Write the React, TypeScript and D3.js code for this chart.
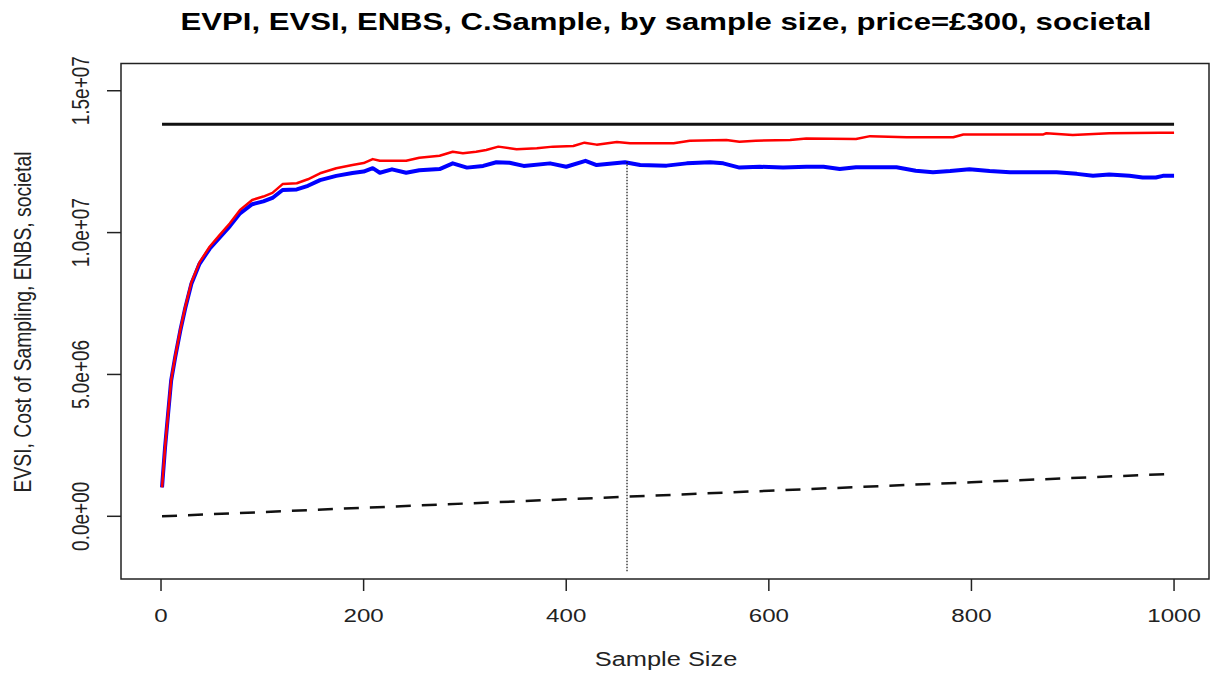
import React from "react";
import * as d3 from "d3";

// sample sizes and values (EVSI / ENBS in £ millions)
const evsiN = [1, 4, 7, 10, 14, 19, 24, 30, 38, 48, 58, 68, 78, 90, 101, 110, 120, 134, 145, 157, 173, 189, 200, 209, 216, 242, 255, 275, 288, 298, 311, 321, 333, 351, 371, 387, 407, 418, 430, 450, 463, 506, 522, 558, 571, 587, 621, 637, 686, 700, 736, 782, 792, 871, 874, 900, 936, 986, 1000];
const evsiV = [1.02, 2.45, 3.63, 4.8, 5.63, 6.57, 7.39, 8.25, 8.95, 9.5, 9.92, 10.33, 10.8, 11.15, 11.27, 11.4, 11.71, 11.74, 11.88, 12.09, 12.27, 12.38, 12.45, 12.59, 12.53, 12.53, 12.64, 12.71, 12.85, 12.8, 12.85, 12.91, 13.03, 12.94, 12.97, 13.03, 13.05, 13.17, 13.1, 13.19, 13.15, 13.15, 13.24, 13.26, 13.2, 13.24, 13.26, 13.32, 13.3, 13.4, 13.36, 13.36, 13.46, 13.46, 13.5, 13.44, 13.5, 13.52, 13.52];

const enbsN = [1, 4, 7, 10, 14, 19, 24, 30, 38, 48, 58, 68, 78, 90, 101, 110, 120, 134, 145, 157, 173, 189, 200, 209, 216, 228, 242, 255, 275, 288, 302, 318, 331, 344, 358, 384, 400, 419, 430, 458, 473, 499, 519, 542, 555, 571, 591, 614, 637, 654, 670, 686, 726, 745, 762, 779, 798, 818, 838, 884, 904, 920, 936, 956, 969, 982, 989, 1000];
const enbsV = [1.02, 2.44, 3.62, 4.78, 5.61, 6.54, 7.35, 8.2, 8.9, 9.43, 9.83, 10.23, 10.68, 11.0, 11.1, 11.22, 11.5, 11.52, 11.65, 11.85, 12.0, 12.1, 12.15, 12.27, 12.11, 12.23, 12.11, 12.2, 12.24, 12.44, 12.29, 12.35, 12.48, 12.46, 12.35, 12.44, 12.32, 12.53, 12.38, 12.48, 12.38, 12.36, 12.44, 12.48, 12.44, 12.29, 12.32, 12.29, 12.32, 12.32, 12.24, 12.3, 12.3, 12.18, 12.13, 12.17, 12.23, 12.17, 12.13, 12.13, 12.07, 12.0, 12.05, 12.0, 11.94, 11.94, 12.0, 12.0];

const costN = [1, 200, 400, 600, 800, 1000];
const costV = [0.0, 0.3, 0.6, 0.9, 1.2, 1.5];

const evpiN = [1, 1000];
const evpiV = [13.82, 13.82];

const optimalN = 460;
const optimalTop = 12.5;
const optimalBottom = -1.95;

const xTicks = [0, 200, 400, 600, 800, 1000];
const yTicks = [0, 5, 10, 15];
const yTickLabels = ["0.0e+00", "5.0e+06", "1.0e+07", "1.5e+07"];

const title = "EVPI, EVSI, ENBS, C.Sample, by sample size, price=£300, societal";
const xTitle = "Sample Size";
const yTitle = "EVSI, Cost of Sampling, ENBS, societal";

const W = 1211, H = 673;
const left = 121, right = 1209, top = 63.5, bottom = 579;
const sx = 1.27; // the original is stretched sideways
const font = "'Liberation Sans', Arial, sans-serif";

export default function App() {
  const x = d3.scaleLinear().domain([-39.5, 1034.5]).range([left, right]);
  const y = d3.scaleLinear().domain([-2.21, 15.96]).range([bottom, top]);

  const line = d3
    .line<[number, number]>()
    .x((d) => x(d[0]))
    .y((d) => y(d[1]));

  const zip = (ns: number[], vs: number[]) => ns.map((n, i) => [n, vs[i]] as [number, number]);

  return (
    <svg width={W} height={H} style={{ position: "absolute", left: 0, top: 0, background: "#fff" }} fontFamily={font}>
      <g transform={`translate(666,30) scale(${sx},1)`}>
        <text textAnchor="middle" fontSize={24.5} fontWeight="bold" fill="#000">{title}</text>
      </g>

      <rect x={left} y={top} width={right - left} height={bottom - top} fill="none" stroke="#222" strokeWidth={1.5} />

      {xTicks.map((t) => (
        <g key={"xt" + t}>
          <line x1={x(t)} x2={x(t)} y1={bottom} y2={bottom + 12} stroke="#222" strokeWidth={1.5} />
          <g transform={`translate(${x(t)},622) scale(${sx},1)`}>
            <text textAnchor="middle" fontSize={19} fill="#222">{t}</text>
          </g>
        </g>
      ))}

      {yTicks.map((t, i) => (
        <g key={"yt" + t}>
          <line x1={left - 14} x2={left} y1={y(t)} y2={y(t)} stroke="#222" strokeWidth={1.5} />
          <g transform={`translate(89,${y(t)}) scale(${sx},1) rotate(-90)`}>
            <text textAnchor="middle" fontSize={19} fill="#222">{yTickLabels[i]}</text>
          </g>
        </g>
      ))}

      <g transform={`translate(666,666) scale(${sx},1)`}>
        <text textAnchor="middle" fontSize={20} fill="#222">{xTitle}</text>
      </g>
      <g transform={`translate(31,322) scale(${sx},1) rotate(-90)`}>
        <text textAnchor="middle" fontSize={19.3} fill="#222">{yTitle}</text>
      </g>

      <path d={line(zip(evpiN, evpiV)) || ""} fill="none" stroke="#111" strokeWidth={3} />
      <path d={line(zip(costN, costV)) || ""} fill="none" stroke="#111" strokeWidth={2.5} strokeDasharray="15,11" />
      <path d={line(zip(enbsN, enbsV)) || ""} fill="none" stroke="#0000ff" strokeWidth={4} strokeLinejoin="round" />
      <path d={line(zip(evsiN, evsiV)) || ""} fill="none" stroke="#ff0000" strokeWidth={2.5} strokeLinejoin="round" />
      <line x1={x(optimalN)} x2={x(optimalN)} y1={y(optimalTop)} y2={y(optimalBottom)} stroke="#111" strokeWidth={1.2} strokeDasharray="1.5,1.5" />
    </svg>
  );
}
